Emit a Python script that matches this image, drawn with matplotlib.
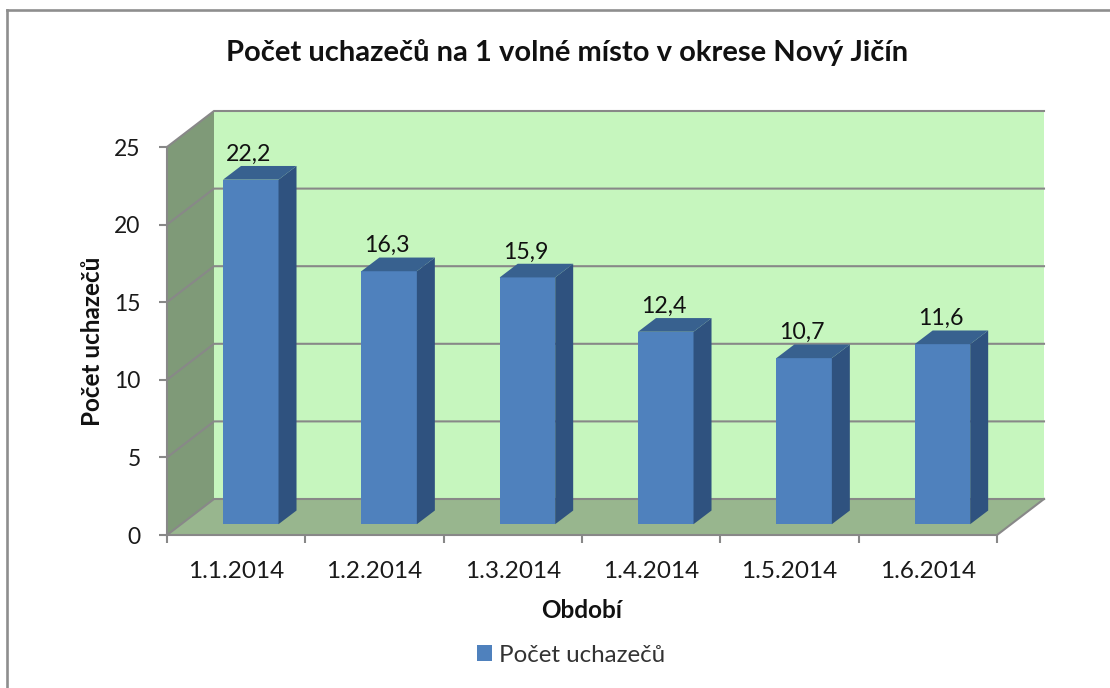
import numpy as np
import matplotlib
matplotlib.use('Agg')
import matplotlib.pyplot as plt

plt.rcParams['font.family'] = ['Lato', 'DejaVu Sans']

# DATA
dates = ['1.1.2014', '1.2.2014', '1.3.2014', '1.4.2014', '1.5.2014', '1.6.2014']
values = [22.2, 16.3, 15.9, 12.4, 10.7, 11.6]
value_labels = ['22,2', '16,3', '15,9', '12,4', '10,7', '11,6']
y_ticks = [0, 5, 10, 15, 20, 25]

W, H = 1110, 688
fig = plt.figure(figsize=(W/100, H/100), dpi=100)

# chart frame, only left and top are in the picture
fig.add_artist(plt.Line2D([7/W, 7/W], [0, 1-10/H], color='#8e8e8e', lw=1.9))
fig.add_artist(plt.Line2D([7/W, 1], [1-10/H, 1-10/H], color='#8e8e8e', lw=1.9))

# axes = the front plane of the 3D box
left, right, top, bottom = 167, 997, 147, 535
ax = fig.add_axes([left/W, 1-bottom/H, (right-left)/W, (bottom-top)/H])
ax.set_xlim(0, 6)
ax.set_ylim(0, 25)
ax.patch.set_alpha(0)
for s in ax.spines.values():
    s.set_visible(False)

# depth of the box in data units
dx = 47 / ((right-left)/6)
dy = 25 * 36 / (bottom-top)

grey = '#888888'

# walls
ax.fill([dx, 6+dx, 6+dx, dx], [dy, dy, 25+dy, 25+dy], color='#c6f6be', lw=0, clip_on=False, zorder=1)
ax.fill([0, dx, dx, 0], [0, dy, 25+dy, 25], color='#7f9a78', lw=0, clip_on=False, zorder=1)
ax.fill([0, 6, 6+dx, dx], [0, 0, dy, dy], color='#98b68e', lw=0, clip_on=False, zorder=1)

# gridlines
for t in y_ticks:
    ax.plot([0, dx, 6+dx], [t, t+dy, t+dy], color=grey, lw=1.5, clip_on=False, zorder=2,
            solid_joinstyle='miter')
ax.plot([0, 0], [0, 25], color=grey, lw=1.5, clip_on=False, zorder=2)
ax.plot([0, 6, 6+dx], [0, 0, dy], color=grey, lw=1.5, clip_on=False, zorder=2)

# bars
x = np.arange(6) + 0.5 + 0.3*dx + 0.5*6/(right-left)
bar_w = 55.5 / ((right-left)/6)
d0 = 0.3*dy
dbx = 18 / ((right-left)/6)
dby = 0.38*dy
bars = ax.bar(x, values, bar_w, bottom=d0, color='#4f81bd', label='Počet uchazečů',
              clip_on=False, zorder=3)
for i in range(6):
    x0 = x[i] - bar_w/2
    x1 = x[i] + bar_w/2
    y1 = values[i] + d0
    ax.fill([x1, x1+dbx, x1+dbx, x1], [d0, d0+dby, y1+dby, y1], color='#2f527f', lw=0,
            clip_on=False, zorder=3)
    ax.fill([x0, x1, x1+dbx, x0+dbx], [y1, y1, y1+dby, y1+dby], color='#38618f', lw=0,
            clip_on=False, zorder=3)
    ax.annotate(value_labels[i], (x[i]-2*6/(right-left), y1+dby), xytext=(0, 1),
                textcoords='offset points', ha='center', va='bottom', fontsize=16.7,
                color='#111111', zorder=4)

# ticks
ax.set_yticks(y_ticks)
ax.set_xticks(np.arange(7))
ax.set_xticklabels([])
ax.set_xticks(np.arange(6)+0.5, dates, minor=True)
ax.tick_params(axis='both', which='major', length=6, width=1.5, color=grey, labelsize=16.5,
               labelcolor='#1a1a1a', pad=13)
ax.tick_params(axis='x', which='minor', length=0, labelsize=17.5, labelcolor='#1a1a1a', pad=19)

fig.text(567/W, 1-53/H, 'Počet uchazečů na 1 volné místo v okrese Nový Jičín', ha='center',
         va='center', fontsize=21, fontweight='bold', color='#111111')
fig.text(93/W, 1-341/H, 'Počet uchazečů', rotation=90, ha='center', va='center', fontsize=17.5,
         fontweight='bold', color='#111111')
fig.text(582/W, 1-611/H, 'Období', ha='center', va='center', fontsize=17.5, fontweight='bold',
         color='#111111')

fig.legend(handles=[bars], loc='center', bbox_to_anchor=(571/W, 1-655/H), frameon=False,
           fontsize=17.4, handlelength=0.62, handleheight=0.62, handletextpad=0.3,
           labelcolor='#333333')

plt.savefig('out.png', dpi=100)
